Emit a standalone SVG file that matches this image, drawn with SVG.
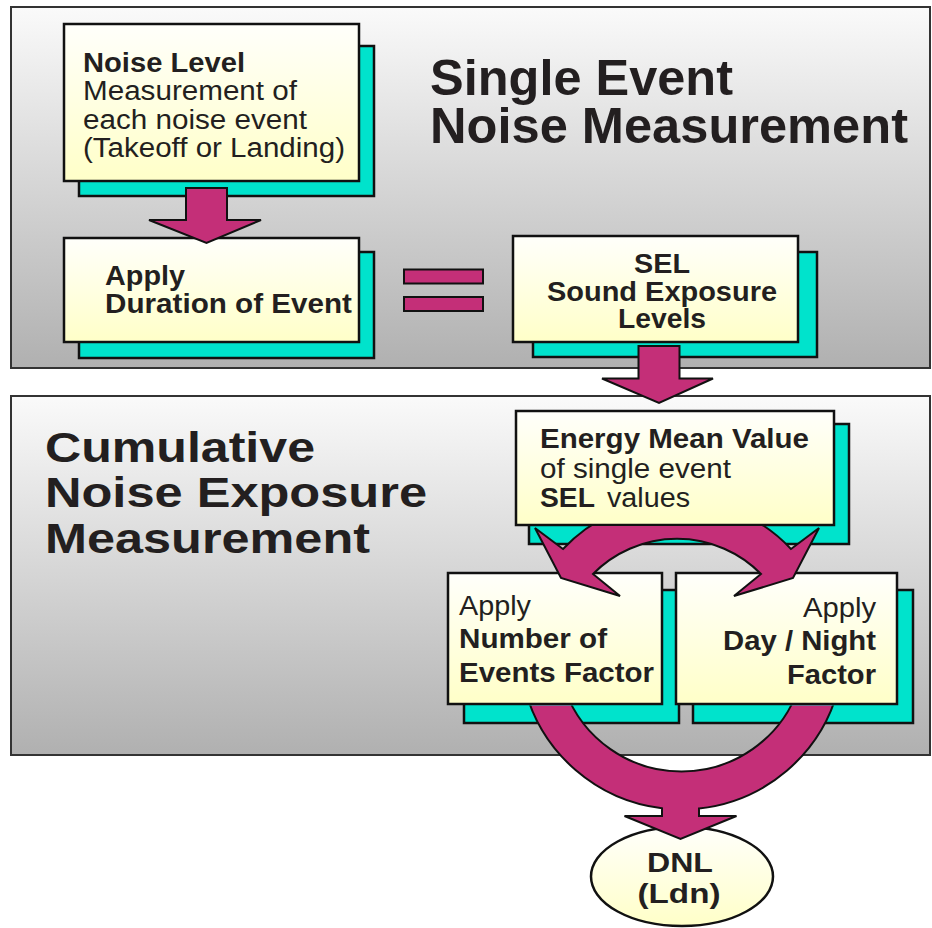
<svg xmlns="http://www.w3.org/2000/svg" width="932" height="928" viewBox="0 0 932 928">
<defs>
<linearGradient id="panelGrad" x1="0" y1="0" x2="0" y2="1">
<stop offset="0" stop-color="#fafafa"/>
<stop offset="1" stop-color="#b0b0b0"/>
</linearGradient>
<linearGradient id="boxGrad" x1="0" y1="0" x2="0" y2="1">
<stop offset="0" stop-color="#fffffb"/>
<stop offset="1" stop-color="#ffffc8"/>
</linearGradient>
<mask id="maskTop" maskUnits="userSpaceOnUse" x="0" y="0" width="932" height="928">
<rect x="0" y="0" width="932" height="928" fill="#fff"/>
<rect x="513" y="408" width="324" height="118" fill="#000"/>
</mask>
<mask id="maskBottom" maskUnits="userSpaceOnUse" x="0" y="0" width="932" height="928">
<rect x="0" y="0" width="932" height="928" fill="#fff"/>
<rect x="446" y="571" width="218" height="134.5" fill="#000"/>
<rect x="674" y="571" width="225" height="134.5" fill="#000"/>
</mask>
<style>
.panel{fill:url(#panelGrad);stroke:#333;stroke-width:2}
.box{fill:url(#boxGrad);stroke:#111;stroke-width:2.5}
.shadow{fill:#00e3cc;stroke:#111;stroke-width:2.5}
.arrow{fill:#c42f78;stroke:#111;stroke-width:2;stroke-linejoin:miter}
.t{font-family:"Liberation Sans",Arial,sans-serif;fill:#231f20;font-size:27px}
.b{font-weight:bold}
.title{font-family:"Liberation Sans",Arial,sans-serif;fill:#231f20;font-weight:bold}
</style>
</defs>

<g id="panel-single">
<rect class="panel" x="11" y="7" width="919" height="361"/>
<text class="title" x="430" y="95" font-size="50" textLength="303" lengthAdjust="spacingAndGlyphs">Single Event</text>
<text class="title" x="430" y="143" font-size="50" textLength="478" lengthAdjust="spacingAndGlyphs">Noise Measurement</text>
</g>

<g id="panel-cumulative">
<rect class="panel" x="11" y="396" width="919" height="359"/>
<text class="title" x="45" y="462" font-size="43" textLength="270" lengthAdjust="spacingAndGlyphs">Cumulative</text>
<text class="title" x="45" y="507" font-size="43" textLength="382" lengthAdjust="spacingAndGlyphs">Noise Exposure</text>
<text class="title" x="45" y="553" font-size="43" textLength="325" lengthAdjust="spacingAndGlyphs">Measurement</text>
</g>

<g id="node-noise-level">
<rect class="shadow" x="79" y="46" width="295" height="150"/>
<rect class="box" x="64" y="24" width="295" height="157"/>
<text class="t b" x="83" y="72" textLength="162" lengthAdjust="spacingAndGlyphs">Noise Level</text>
<text class="t" x="83" y="100" textLength="214" lengthAdjust="spacingAndGlyphs">Measurement of</text>
<text class="t" x="83" y="129" textLength="224" lengthAdjust="spacingAndGlyphs">each noise event</text>
<text class="t" x="83" y="157" textLength="262" lengthAdjust="spacingAndGlyphs">(Takeoff or Landing)</text>
</g>

<g id="node-duration">
<rect class="shadow" x="79" y="252" width="295" height="106"/>
<rect class="box" x="64" y="238" width="295" height="104"/>
<text class="t b" x="105" y="285" textLength="80" lengthAdjust="spacingAndGlyphs">Apply</text>
<text class="t b" x="105" y="313" textLength="247" lengthAdjust="spacingAndGlyphs">Duration of Event</text>
</g>

<g id="node-sel">
<rect class="shadow" x="533" y="252" width="284" height="105"/>
<rect class="box" x="513" y="236" width="285" height="106"/>
<text class="t b" x="662" y="273" text-anchor="middle" textLength="56" lengthAdjust="spacingAndGlyphs">SEL</text>
<text class="t b" x="662" y="301" text-anchor="middle" textLength="230" lengthAdjust="spacingAndGlyphs">Sound Exposure</text>
<text class="t b" x="662" y="328" text-anchor="middle" textLength="88" lengthAdjust="spacingAndGlyphs">Levels</text>
</g>

<g id="node-energy">
<rect class="shadow" x="529" y="424" width="320" height="120"/>
<rect class="box" x="516" y="411" width="318" height="114"/>
<text class="t b" x="540" y="448" textLength="269" lengthAdjust="spacingAndGlyphs">Energy Mean Value</text>
<text class="t" x="540" y="478" textLength="191" lengthAdjust="spacingAndGlyphs">of single event</text>
<text class="t b" x="540" y="507" textLength="55" lengthAdjust="spacingAndGlyphs">SEL</text>
<text class="t" x="607" y="507" textLength="83" lengthAdjust="spacingAndGlyphs">values</text>
</g>

<g id="node-events-factor">
<rect class="shadow" x="464" y="590" width="215" height="133"/>
<rect class="box" x="448" y="573" width="214" height="131"/>
<text class="t" x="459" y="615" textLength="72" lengthAdjust="spacingAndGlyphs">Apply</text>
<text class="t b" x="459" y="648" textLength="148" lengthAdjust="spacingAndGlyphs">Number of</text>
<text class="t b" x="459" y="682" textLength="195" lengthAdjust="spacingAndGlyphs">Events Factor</text>
</g>

<g id="node-daynight-factor">
<rect class="shadow" x="693" y="590" width="220" height="133"/>
<rect class="box" x="676" y="573" width="221" height="131"/>
<text class="t" x="876" y="617" text-anchor="end" textLength="73" lengthAdjust="spacingAndGlyphs">Apply</text>
<text class="t b" x="876" y="650" text-anchor="end" textLength="153" lengthAdjust="spacingAndGlyphs">Day / Night</text>
<text class="t b" x="876" y="684" text-anchor="end" textLength="89" lengthAdjust="spacingAndGlyphs">Factor</text>
</g>

<g id="node-dnl">
<ellipse class="box" cx="682" cy="876.5" rx="91" ry="49.5"/>
<text class="t b" x="680" y="872" text-anchor="middle" textLength="66" lengthAdjust="spacingAndGlyphs">DNL</text>
<text class="t b" x="679" y="903" text-anchor="middle" textLength="83" lengthAdjust="spacingAndGlyphs">(Ldn)</text>
</g>

<g id="connectors">
<g id="equals">
<rect class="arrow" x="404" y="269.5" width="79" height="14"/>
<rect class="arrow" x="404" y="297" width="79" height="14"/>
</g>
<path id="arrow-noise-duration" class="arrow" d="M186 188 L227 188 L227 220 L261 220 L206.5 243 L149 220 L186 220 Z"/>
<path id="arrow-sel-energy" class="arrow" d="M638.5 346 L679.5 346 L679.5 378.5 L713 378.5 L659 403 L602 378.5 L638.5 378.5 Z"/>
<path id="arrow-energy-factors" class="arrow" mask="url(#maskTop)" d="M563 549 L535 528 L561 578 L620 596 L593 574 A118 118 0 0 1 761 574 L734 596 L793 578 L819 528 L791 549 A156 156 0 0 0 563 549 Z"/>
<path id="arrow-factors-dnl" class="arrow" mask="url(#maskBottom)" d="M525.2 690 A162 162 0 0 0 662 808.3 L662 816 L624.5 816 L680.5 839 L736.5 816 L699 816 L699 808.5 A162 162 0 0 0 838 690 L798 690 A124 124 0 0 1 565 690 Z"/>
</g>
</svg>
